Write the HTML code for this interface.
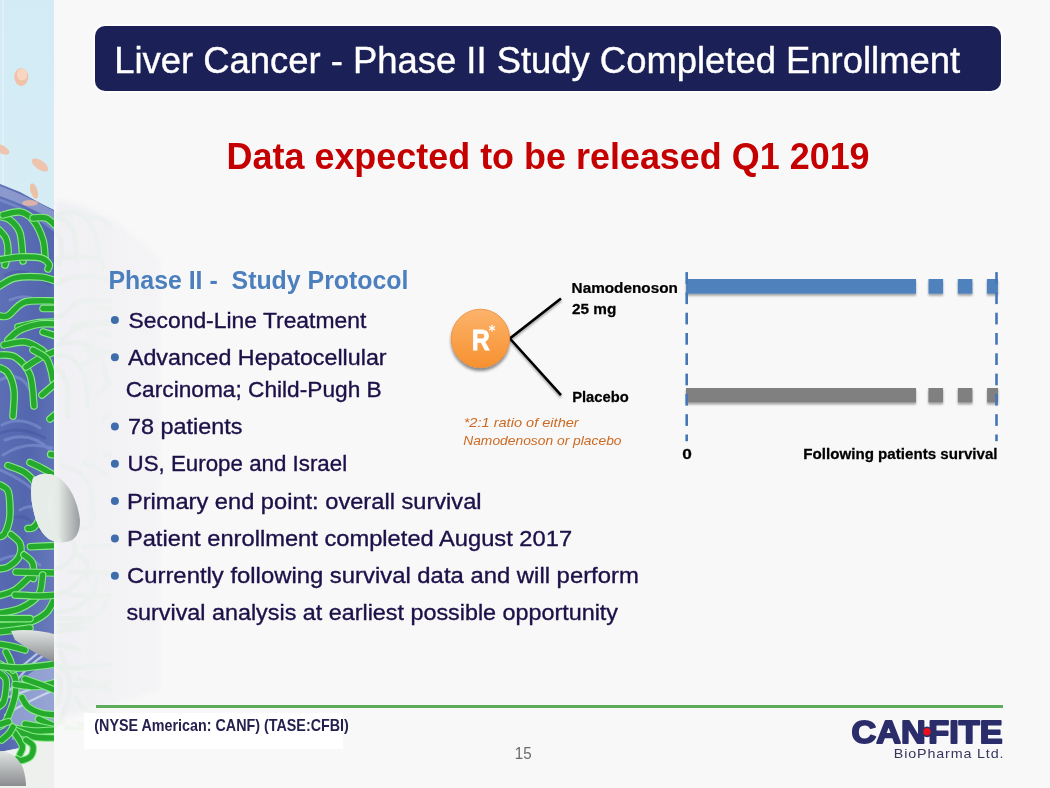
<!DOCTYPE html>
<html><head><meta charset="utf-8"><style>
html,body{margin:0;padding:0;}
body{width:1050px;height:788px;overflow:hidden;background:#f8f8f8;position:relative;font-family:"Liberation Sans",sans-serif;}
.abs{position:absolute;}
#title{left:95px;top:26px;width:906px;height:65px;border-radius:10px;background:#1b2056;box-shadow:0 0 0 1.2px #ffffff, 0 0 2px 1.5px rgba(255,255,255,0.6);}
#gline{left:95.5px;top:705px;width:907px;height:3px;background:#5cac5c;}
#wbox{left:83.8px;top:712.8px;width:259.6px;height:36px;background:#ffffff;}
svg{position:absolute;left:0;top:0;will-change:transform;}
</style></head><body>
<svg width="1050" height="788" viewBox="0 0 1050 788">
<defs>
 <linearGradient id="skyg" x1="0" y1="0" x2="0" y2="1">
  <stop offset="0" stop-color="#d2ebf5"/><stop offset="1" stop-color="#e3f2f8"/>
 </linearGradient>
 <linearGradient id="blueg" x1="0" y1="0" x2="1" y2="1">
  <stop offset="0" stop-color="#6172b8"/><stop offset="0.5" stop-color="#5366ae"/><stop offset="1" stop-color="#7081c0"/>
 </linearGradient>
 <linearGradient id="pillg" x1="0" y1="0" x2="1" y2="0">
  <stop offset="0" stop-color="#f4f6f4"/><stop offset="0.55" stop-color="#e4ebe6"/><stop offset="1" stop-color="#9a9ca0"/>
 </linearGradient>
 <linearGradient id="pill2g" x1="0" y1="0" x2="0" y2="1">
  <stop offset="0" stop-color="#e0e4e2"/><stop offset="1" stop-color="#8a8c90"/>
 </linearGradient>
 <clipPath id="stripclip"><rect x="0" y="0" width="54" height="788"/></clipPath>
 <filter id="blur1"><feGaussianBlur stdDeviation="0.6"/></filter>
 <filter id="blur3"><feGaussianBlur stdDeviation="2.5"/></filter>
 <linearGradient id="wmg" x1="0" y1="0" x2="1" y2="0">
  <stop offset="0" stop-color="#fff" stop-opacity="1"/><stop offset="0.35" stop-color="#fff" stop-opacity="0.6"/><stop offset="1" stop-color="#fff" stop-opacity="0"/>
 </linearGradient>
 <mask id="wmm" maskUnits="userSpaceOnUse" x="54" y="0" width="300" height="788"><rect x="54" y="170" width="220" height="560" fill="url(#wmg)"/></mask>
</defs>
<g clip-path="url(#stripclip)">
 <rect x="0" y="0" width="54" height="788" fill="url(#skyg)"/>
 <rect x="2.5" y="0" width="1.2" height="640" fill="#eef8fb" opacity="0.7"/>
 <path d="M0 184 L20 192 L40 203 L54 210 L54 728 L40 735 L20 748 L0 752 Z" fill="url(#blueg)"/>
 <g opacity="0.45" stroke="#8ea2dc" stroke-width="3" fill="none" stroke-linecap="round">
  <path d="M0 200 Q30 210 54 230"/><path d="M5 440 Q30 430 50 450"/><path d="M0 470 Q25 480 45 500"/>
  <path d="M2 425 Q20 415 40 428"/><path d="M3 455 Q25 440 52 448"/><path d="M10 300 Q30 290 50 310"/>
  <path d="M0 380 Q20 370 30 390"/><path d="M20 510 Q35 500 50 520"/><path d="M0 560 Q20 550 40 565"/>
 </g>
 <g opacity="0.35" stroke="#3f4f9a" stroke-width="3" fill="none" stroke-linecap="round">
  <path d="M0 433 Q20 425 45 438"/><path d="M5 275 Q25 265 50 285"/><path d="M8 520 Q25 510 40 530"/>
 </g>
 <path d="M10 690 Q30 670 54 660 L54 725 Q30 735 12 740 Z" fill="#b8c4e6" opacity="0.55"/>
 <path d="M0 186 Q25 195 54 211 L54 220 Q25 205 0 196 Z" fill="#a8b4dc" opacity="0.6"/>
 <g opacity="0.7" stroke="#dfe6f6" stroke-width="2.2" fill="none" stroke-linecap="round">
  <path d="M10 690 Q30 660 54 650"/><path d="M0 700 Q30 690 54 680"/><path d="M5 715 Q30 700 54 690"/><path d="M15 672 Q35 655 54 640"/>
 </g>
 <path d="M0 752 L20 748 L40 735 L54 728 L54 788 L0 788 Z" fill="#eef0ee"/>
 <g filter="url(#blur1)"><path d="M-2 229 C-0.7 230.6 4.3 234.5 6 238.5 C7.7 242.5 8.2 248.6 8 253 C7.8 257.4 5.5 263.0 5 265" fill="none" stroke="#86e886" stroke-width="7.6" stroke-linecap="round"/>
<path d="M-2 229 C-0.7 230.6 4.3 234.5 6 238.5 C7.7 242.5 8.2 248.6 8 253 C7.8 257.4 5.5 263.0 5 265" fill="none" stroke="#27aa2f" stroke-width="5.4" stroke-linecap="round"/>
<path d="M-2 216 C0.0 216.7 6.3 217.2 10 220 C13.7 222.8 17.8 226.2 20 233 C22.2 239.8 22.5 256.3 23 261" fill="none" stroke="#86e886" stroke-width="7.6" stroke-linecap="round"/>
<path d="M-2 216 C0.0 216.7 6.3 217.2 10 220 C13.7 222.8 17.8 226.2 20 233 C22.2 239.8 22.5 256.3 23 261" fill="none" stroke="#27aa2f" stroke-width="5.4" stroke-linecap="round"/>
<path d="M3 215 C5.8 214.5 15.0 211.2 20 212 C25.0 212.8 29.2 215.3 33 220 C36.8 224.7 41.0 233.5 43 240 C45.0 246.5 44.7 255.8 45 259" fill="none" stroke="#86e886" stroke-width="7.6" stroke-linecap="round"/>
<path d="M3 215 C5.8 214.5 15.0 211.2 20 212 C25.0 212.8 29.2 215.3 33 220 C36.8 224.7 41.0 233.5 43 240 C45.0 246.5 44.7 255.8 45 259" fill="none" stroke="#27aa2f" stroke-width="5.4" stroke-linecap="round"/>
<path d="M33 218 C35.2 218.0 42.2 216.7 46 218 C49.8 219.3 54.3 224.7 56 226" fill="none" stroke="#86e886" stroke-width="7.6" stroke-linecap="round"/>
<path d="M33 218 C35.2 218.0 42.2 216.7 46 218 C49.8 219.3 54.3 224.7 56 226" fill="none" stroke="#27aa2f" stroke-width="5.4" stroke-linecap="round"/>
<path d="M-2 260 C1.7 259.5 12.8 257.3 20 257 C27.2 256.7 36.2 256.8 41 258 C45.8 259.2 47.8 262.2 49 264 C50.2 265.8 48.2 268.2 48 269" fill="none" stroke="#86e886" stroke-width="7.6" stroke-linecap="round"/>
<path d="M-2 260 C1.7 259.5 12.8 257.3 20 257 C27.2 256.7 36.2 256.8 41 258 C45.8 259.2 47.8 262.2 49 264 C50.2 265.8 48.2 268.2 48 269" fill="none" stroke="#27aa2f" stroke-width="5.4" stroke-linecap="round"/>
<path d="M-2 287 C0.8 285.5 8.0 279.7 15 278 C22.0 276.3 33.2 276.5 40 277 C46.8 277.5 53.3 280.3 56 281" fill="none" stroke="#86e886" stroke-width="7.6" stroke-linecap="round"/>
<path d="M-2 287 C0.8 285.5 8.0 279.7 15 278 C22.0 276.3 33.2 276.5 40 277 C46.8 277.5 53.3 280.3 56 281" fill="none" stroke="#27aa2f" stroke-width="5.4" stroke-linecap="round"/>
<path d="M-2 315.6 C-0.3 315.6 3.5 317.9 8 315.6 C12.5 313.3 17.0 304.4 25 302 C33.0 299.6 50.8 301.2 56 301" fill="none" stroke="#86e886" stroke-width="7.6" stroke-linecap="round"/>
<path d="M-2 315.6 C-0.3 315.6 3.5 317.9 8 315.6 C12.5 313.3 17.0 304.4 25 302 C33.0 299.6 50.8 301.2 56 301" fill="none" stroke="#27aa2f" stroke-width="5.4" stroke-linecap="round"/>
<path d="M43 308.5 C45.2 308.5 53.8 308.5 56 308.5" fill="none" stroke="#86e886" stroke-width="7.6" stroke-linecap="round"/>
<path d="M43 308.5 C45.2 308.5 53.8 308.5 56 308.5" fill="none" stroke="#27aa2f" stroke-width="5.4" stroke-linecap="round"/>
<path d="M18 327 C21.0 326.3 29.7 323.8 36 323 C42.3 322.2 52.7 322.2 56 322" fill="none" stroke="#86e886" stroke-width="7.6" stroke-linecap="round"/>
<path d="M18 327 C21.0 326.3 29.7 323.8 36 323 C42.3 322.2 52.7 322.2 56 322" fill="none" stroke="#27aa2f" stroke-width="5.4" stroke-linecap="round"/>
<path d="M8 340 C10.0 338.3 14.7 332.7 20 330 C25.3 327.3 34.0 325.0 40 324 C46.0 323.0 53.3 324.0 56 324" fill="none" stroke="#86e886" stroke-width="7.6" stroke-linecap="round"/>
<path d="M8 340 C10.0 338.3 14.7 332.7 20 330 C25.3 327.3 34.0 325.0 40 324 C46.0 323.0 53.3 324.0 56 324" fill="none" stroke="#27aa2f" stroke-width="5.4" stroke-linecap="round"/>
<path d="M4 345 C7.5 344.5 18.7 341.2 25 342 C31.3 342.8 38.5 347.7 42 350 C45.5 352.3 45.3 355.0 46 356" fill="none" stroke="#86e886" stroke-width="7.6" stroke-linecap="round"/>
<path d="M4 345 C7.5 344.5 18.7 341.2 25 342 C31.3 342.8 38.5 347.7 42 350 C45.5 352.3 45.3 355.0 46 356" fill="none" stroke="#27aa2f" stroke-width="5.4" stroke-linecap="round"/>
<path d="M43 332 C45.2 332.7 53.8 335.3 56 336" fill="none" stroke="#86e886" stroke-width="7.6" stroke-linecap="round"/>
<path d="M43 332 C45.2 332.7 53.8 335.3 56 336" fill="none" stroke="#27aa2f" stroke-width="5.4" stroke-linecap="round"/>
<path d="M-2 367 C-0.3 368.0 5.3 369.0 8 373 C10.7 377.0 13.2 383.8 14 391 C14.8 398.2 13.2 411.8 13 416" fill="none" stroke="#86e886" stroke-width="7.6" stroke-linecap="round"/>
<path d="M-2 367 C-0.3 368.0 5.3 369.0 8 373 C10.7 377.0 13.2 383.8 14 391 C14.8 398.2 13.2 411.8 13 416" fill="none" stroke="#27aa2f" stroke-width="5.4" stroke-linecap="round"/>
<path d="M-2 355 C0.8 355.3 9.7 353.7 15 357 C20.3 360.3 26.8 366.8 30 375 C33.2 383.2 33.3 400.8 34 406" fill="none" stroke="#86e886" stroke-width="7.6" stroke-linecap="round"/>
<path d="M-2 355 C0.8 355.3 9.7 353.7 15 357 C20.3 360.3 26.8 366.8 30 375 C33.2 383.2 33.3 400.8 34 406" fill="none" stroke="#27aa2f" stroke-width="5.4" stroke-linecap="round"/>
<path d="M26 367 C28.3 365.5 35.0 360.7 40 358 C45.0 355.3 53.3 352.2 56 351" fill="none" stroke="#86e886" stroke-width="7.6" stroke-linecap="round"/>
<path d="M26 367 C28.3 365.5 35.0 360.7 40 358 C45.0 355.3 53.3 352.2 56 351" fill="none" stroke="#27aa2f" stroke-width="5.4" stroke-linecap="round"/>
<path d="M33 350 C35.2 351.3 43.0 354.7 46 358 C49.0 361.3 49.8 366.3 51 370 C52.2 373.7 52.7 378.3 53 380" fill="none" stroke="#86e886" stroke-width="7.6" stroke-linecap="round"/>
<path d="M33 350 C35.2 351.3 43.0 354.7 46 358 C49.0 361.3 49.8 366.3 51 370 C52.2 373.7 52.7 378.3 53 380" fill="none" stroke="#27aa2f" stroke-width="5.4" stroke-linecap="round"/>
<path d="M42 395 C44.3 393.0 53.7 385.0 56 383" fill="none" stroke="#86e886" stroke-width="7.6" stroke-linecap="round"/>
<path d="M42 395 C44.3 393.0 53.7 385.0 56 383" fill="none" stroke="#27aa2f" stroke-width="5.4" stroke-linecap="round"/>
<path d="M50 419 C51.0 418.2 55.0 414.8 56 414" fill="none" stroke="#86e886" stroke-width="7.6" stroke-linecap="round"/>
<path d="M50 419 C51.0 418.2 55.0 414.8 56 414" fill="none" stroke="#27aa2f" stroke-width="5.4" stroke-linecap="round"/>
<path d="M8 465.6 C10.8 466.8 20.2 469.3 25 472.7 C29.8 476.1 34.2 480.6 36.5 486 C38.8 491.4 38.0 499.7 38.5 505 C39.0 510.3 40.3 514.3 39.5 518 C38.7 521.7 35.4 525.7 33.5 527.4 C31.6 529.1 28.9 528.2 28 528.4" fill="none" stroke="#86e886" stroke-width="7.6" stroke-linecap="round"/>
<path d="M8 465.6 C10.8 466.8 20.2 469.3 25 472.7 C29.8 476.1 34.2 480.6 36.5 486 C38.8 491.4 38.0 499.7 38.5 505 C39.0 510.3 40.3 514.3 39.5 518 C38.7 521.7 35.4 525.7 33.5 527.4 C31.6 529.1 28.9 528.2 28 528.4" fill="none" stroke="#27aa2f" stroke-width="5.4" stroke-linecap="round"/>
<path d="M30 462.5 C32.1 463.5 38.9 466.7 42.6 468.6 C46.3 470.5 50.4 473.1 52 474" fill="none" stroke="#86e886" stroke-width="7.6" stroke-linecap="round"/>
<path d="M30 462.5 C32.1 463.5 38.9 466.7 42.6 468.6 C46.3 470.5 50.4 473.1 52 474" fill="none" stroke="#27aa2f" stroke-width="5.4" stroke-linecap="round"/>
<path d="M50.7 454.4 C51.6 454.5 55.1 454.9 56 455" fill="none" stroke="#86e886" stroke-width="7.6" stroke-linecap="round"/>
<path d="M50.7 454.4 C51.6 454.5 55.1 454.9 56 455" fill="none" stroke="#27aa2f" stroke-width="5.4" stroke-linecap="round"/>
<path d="M-2 484 C-0.3 485.2 6.0 486.7 8 491 C10.0 495.3 9.8 504.8 10 510 C10.2 515.2 10.0 517.9 9 522 C8.0 526.1 5.8 532.0 4 534.5 C2.2 537.0 -1.0 536.6 -2 537" fill="none" stroke="#86e886" stroke-width="7.6" stroke-linecap="round"/>
<path d="M-2 484 C-0.3 485.2 6.0 486.7 8 491 C10.0 495.3 9.8 504.8 10 510 C10.2 515.2 10.0 517.9 9 522 C8.0 526.1 5.8 532.0 4 534.5 C2.2 537.0 -1.0 536.6 -2 537" fill="none" stroke="#27aa2f" stroke-width="5.4" stroke-linecap="round"/>
<path d="M11 534.5 C12.5 536.0 18.7 539.9 20 543.6 C21.3 547.3 21.0 552.9 19 556.8 C17.0 560.7 11.5 565.0 8 567 C4.5 569.0 -0.3 568.7 -2 569" fill="none" stroke="#86e886" stroke-width="7.6" stroke-linecap="round"/>
<path d="M11 534.5 C12.5 536.0 18.7 539.9 20 543.6 C21.3 547.3 21.0 552.9 19 556.8 C17.0 560.7 11.5 565.0 8 567 C4.5 569.0 -0.3 568.7 -2 569" fill="none" stroke="#27aa2f" stroke-width="5.4" stroke-linecap="round"/>
<path d="M30.4 546.7 C34.7 546.5 51.7 545.8 56 545.6" fill="none" stroke="#86e886" stroke-width="7.6" stroke-linecap="round"/>
<path d="M30.4 546.7 C34.7 546.5 51.7 545.8 56 545.6" fill="none" stroke="#27aa2f" stroke-width="5.4" stroke-linecap="round"/>
<path d="M24 554.8 C25.4 556.2 30.9 559.1 32.5 563 C34.1 566.9 33.9 575.7 33.5 578 C33.1 580.3 33.1 575.0 30 577 C26.9 579.0 20.3 586.8 15 590 C9.7 593.2 0.8 595.0 -2 596" fill="none" stroke="#86e886" stroke-width="7.6" stroke-linecap="round"/>
<path d="M24 554.8 C25.4 556.2 30.9 559.1 32.5 563 C34.1 566.9 33.9 575.7 33.5 578 C33.1 580.3 33.1 575.0 30 577 C26.9 579.0 20.3 586.8 15 590 C9.7 593.2 0.8 595.0 -2 596" fill="none" stroke="#27aa2f" stroke-width="5.4" stroke-linecap="round"/>
<path d="M16 572 C22.7 572.2 49.3 572.8 56 573" fill="none" stroke="#86e886" stroke-width="7.6" stroke-linecap="round"/>
<path d="M16 572 C22.7 572.2 49.3 572.8 56 573" fill="none" stroke="#27aa2f" stroke-width="5.4" stroke-linecap="round"/>
<path d="M-2 613.5 C1.7 612.7 13.2 611.6 20 608.5 C26.8 605.4 34.7 600.6 38.5 595 C42.3 589.4 41.9 578.3 42.6 575" fill="none" stroke="#86e886" stroke-width="7.6" stroke-linecap="round"/>
<path d="M-2 613.5 C1.7 612.7 13.2 611.6 20 608.5 C26.8 605.4 34.7 600.6 38.5 595 C42.3 589.4 41.9 578.3 42.6 575" fill="none" stroke="#27aa2f" stroke-width="5.4" stroke-linecap="round"/>
<path d="M-2 625.7 C2.5 625.4 17.1 625.7 25 623.7 C32.9 621.7 40.8 617.5 45.6 613.5 C50.4 609.5 52.6 602.2 54 600" fill="none" stroke="#86e886" stroke-width="7.6" stroke-linecap="round"/>
<path d="M-2 625.7 C2.5 625.4 17.1 625.7 25 623.7 C32.9 621.7 40.8 617.5 45.6 613.5 C50.4 609.5 52.6 602.2 54 600" fill="none" stroke="#27aa2f" stroke-width="5.4" stroke-linecap="round"/>
<path d="M-2 618.6 C3.3 618.6 24.7 618.6 30 618.6" fill="none" stroke="#86e886" stroke-width="7.6" stroke-linecap="round"/>
<path d="M-2 618.6 C3.3 618.6 24.7 618.6 30 618.6" fill="none" stroke="#27aa2f" stroke-width="5.4" stroke-linecap="round"/>
<path d="M15 595 C19.2 595.2 33.2 596.0 40 596 C46.8 596.0 53.3 595.2 56 595" fill="none" stroke="#86e886" stroke-width="7.6" stroke-linecap="round"/>
<path d="M15 595 C19.2 595.2 33.2 596.0 40 596 C46.8 596.0 53.3 595.2 56 595" fill="none" stroke="#27aa2f" stroke-width="5.4" stroke-linecap="round"/>
<path d="M-2 632 C0.8 631.7 9.7 630.7 15 630 C20.3 629.3 27.5 628.3 30 628" fill="none" stroke="#86e886" stroke-width="7.6" stroke-linecap="round"/>
<path d="M-2 632 C0.8 631.7 9.7 630.7 15 630 C20.3 629.3 27.5 628.3 30 628" fill="none" stroke="#27aa2f" stroke-width="5.4" stroke-linecap="round"/>
<path d="M-2 644 C0.0 644.3 5.5 645.0 10 646 C14.5 647.0 22.5 649.3 25 650" fill="none" stroke="#86e886" stroke-width="7.6" stroke-linecap="round"/>
<path d="M-2 644 C0.0 644.3 5.5 645.0 10 646 C14.5 647.0 22.5 649.3 25 650" fill="none" stroke="#27aa2f" stroke-width="5.4" stroke-linecap="round"/>
<path d="M-2 672 C-0.7 673.3 5.0 675.2 6 680 C7.0 684.8 5.3 696.2 4 700.7 C2.7 705.2 -1.0 706.0 -2 707" fill="none" stroke="#86e886" stroke-width="7.6" stroke-linecap="round"/>
<path d="M-2 672 C-0.7 673.3 5.0 675.2 6 680 C7.0 684.8 5.3 696.2 4 700.7 C2.7 705.2 -1.0 706.0 -2 707" fill="none" stroke="#27aa2f" stroke-width="5.4" stroke-linecap="round"/>
<path d="M-2 663 C0.7 665.0 11.2 669.6 14 675 C16.8 680.4 16.3 687.9 15 695.6 C13.7 703.3 8.8 715.8 6 721 C3.2 726.2 -0.7 726.0 -2 727" fill="none" stroke="#86e886" stroke-width="7.6" stroke-linecap="round"/>
<path d="M-2 663 C0.7 665.0 11.2 669.6 14 675 C16.8 680.4 16.3 687.9 15 695.6 C13.7 703.3 8.8 715.8 6 721 C3.2 726.2 -0.7 726.0 -2 727" fill="none" stroke="#27aa2f" stroke-width="5.4" stroke-linecap="round"/>
<path d="M6 652 C6.7 653.3 8.8 657.0 10 660 C11.2 663.0 12.5 668.3 13 670" fill="none" stroke="#86e886" stroke-width="7.6" stroke-linecap="round"/>
<path d="M6 652 C6.7 653.3 8.8 657.0 10 660 C11.2 663.0 12.5 668.3 13 670" fill="none" stroke="#27aa2f" stroke-width="5.4" stroke-linecap="round"/>
<path d="M-2 666 C1.7 666.3 10.3 668.3 20 668 C29.7 667.7 50.0 664.7 56 664" fill="none" stroke="#86e886" stroke-width="7.6" stroke-linecap="round"/>
<path d="M-2 666 C1.7 666.3 10.3 668.3 20 668 C29.7 667.7 50.0 664.7 56 664" fill="none" stroke="#27aa2f" stroke-width="5.4" stroke-linecap="round"/>
<path d="M15 684.5 C18.4 684.8 28.7 686.8 35.5 686.5 C42.3 686.2 52.6 683.2 56 682.5" fill="none" stroke="#86e886" stroke-width="7.6" stroke-linecap="round"/>
<path d="M15 684.5 C18.4 684.8 28.7 686.8 35.5 686.5 C42.3 686.2 52.6 683.2 56 682.5" fill="none" stroke="#27aa2f" stroke-width="5.4" stroke-linecap="round"/>
<path d="M25 679 C27.6 679.9 35.4 682.6 40.6 684.5 C45.8 686.4 53.4 689.6 56 690.6" fill="none" stroke="#86e886" stroke-width="7.6" stroke-linecap="round"/>
<path d="M25 679 C27.6 679.9 35.4 682.6 40.6 684.5 C45.8 686.4 53.4 689.6 56 690.6" fill="none" stroke="#27aa2f" stroke-width="5.4" stroke-linecap="round"/>
<path d="M22 697.7 C23.0 699.2 24.9 704.2 28 706.8 C31.1 709.3 35.9 711.6 40.6 713 C45.3 714.4 53.4 714.7 56 715" fill="none" stroke="#86e886" stroke-width="7.6" stroke-linecap="round"/>
<path d="M22 697.7 C23.0 699.2 24.9 704.2 28 706.8 C31.1 709.3 35.9 711.6 40.6 713 C45.3 714.4 53.4 714.7 56 715" fill="none" stroke="#27aa2f" stroke-width="5.4" stroke-linecap="round"/>
<path d="M38.5 719 C41.4 720.3 53.1 725.7 56 727" fill="none" stroke="#86e886" stroke-width="7.6" stroke-linecap="round"/>
<path d="M38.5 719 C41.4 720.3 53.1 725.7 56 727" fill="none" stroke="#27aa2f" stroke-width="5.4" stroke-linecap="round"/>
<path d="M25 724 C30.2 725.0 50.8 729.0 56 730" fill="none" stroke="#86e886" stroke-width="7.6" stroke-linecap="round"/>
<path d="M25 724 C30.2 725.0 50.8 729.0 56 730" fill="none" stroke="#27aa2f" stroke-width="5.4" stroke-linecap="round"/>
<path d="M13 728 C16.6 728.5 27.3 730.7 34.5 731 C41.7 731.3 52.4 730.2 56 730" fill="none" stroke="#86e886" stroke-width="7.6" stroke-linecap="round"/>
<path d="M13 728 C16.6 728.5 27.3 730.7 34.5 731 C41.7 731.3 52.4 730.2 56 730" fill="none" stroke="#27aa2f" stroke-width="5.4" stroke-linecap="round"/>
<path d="M14.7 730 C18.0 731.2 27.6 735.7 34.5 737 C41.4 738.3 52.4 737.8 56 738" fill="none" stroke="#86e886" stroke-width="7.6" stroke-linecap="round"/>
<path d="M14.7 730 C18.0 731.2 27.6 735.7 34.5 737 C41.4 738.3 52.4 737.8 56 738" fill="none" stroke="#27aa2f" stroke-width="5.4" stroke-linecap="round"/>
<path d="M14.7 733 C16.0 735.2 21.5 742.4 22.4 746 C23.2 749.6 20.2 753.1 19.8 754.5" fill="none" stroke="#86e886" stroke-width="7.6" stroke-linecap="round"/>
<path d="M14.7 733 C16.0 735.2 21.5 742.4 22.4 746 C23.2 749.6 20.2 753.1 19.8 754.5" fill="none" stroke="#27aa2f" stroke-width="5.4" stroke-linecap="round"/>
<path d="M26 740 C27.2 741.0 32.2 743.3 33 746 C33.8 748.7 32.9 753.6 31 756 C29.1 758.4 23.9 760.0 21.6 760.5 C19.3 761.0 17.8 759.2 17 759" fill="none" stroke="#86e886" stroke-width="7.6" stroke-linecap="round"/>
<path d="M26 740 C27.2 741.0 32.2 743.3 33 746 C33.8 748.7 32.9 753.6 31 756 C29.1 758.4 23.9 760.0 21.6 760.5 C19.3 761.0 17.8 759.2 17 759" fill="none" stroke="#27aa2f" stroke-width="5.4" stroke-linecap="round"/>
<path d="M-2 725 C-0.2 724.5 6.8 722.2 8.6 721.7" fill="none" stroke="#86e886" stroke-width="7.6" stroke-linecap="round"/>
<path d="M-2 725 C-0.2 724.5 6.8 722.2 8.6 721.7" fill="none" stroke="#27aa2f" stroke-width="5.4" stroke-linecap="round"/>
<path d="M1.7 740 C2.8 739.0 6.7 736.2 8.6 734 C10.5 731.8 12.3 728.2 13 727" fill="none" stroke="#86e886" stroke-width="7.6" stroke-linecap="round"/>
<path d="M1.7 740 C2.8 739.0 6.7 736.2 8.6 734 C10.5 731.8 12.3 728.2 13 727" fill="none" stroke="#27aa2f" stroke-width="5.4" stroke-linecap="round"/></g>
 <path d="M0 751 Q16 752 23 768 Q26 778 26 786 L0 786 Z" fill="url(#pill2g)"/>
 <path d="M11 631 Q30 628 54 634 L54 662 Q32 652 15 640 Z" fill="url(#pill2g)"/>
</g>
<g mask="url(#wmm)">
 <path d="M56 200 Q90 205 120 225 L160 260 L160 690 L56 720 Z" fill="#e6e7f0" opacity="0.45" filter="url(#blur3)"/>
 <g transform="translate(54 0)" opacity="0.09" filter="url(#blur1)"><path d="M-2 229 C-0.7 230.6 4.3 234.5 6 238.5 C7.7 242.5 8.2 248.6 8 253 C7.8 257.4 5.5 263.0 5 265" fill="none" stroke="#a8e0a8" stroke-width="5" stroke-linecap="round"/>
<path d="M-2 216 C0.0 216.7 6.3 217.2 10 220 C13.7 222.8 17.8 226.2 20 233 C22.2 239.8 22.5 256.3 23 261" fill="none" stroke="#a8e0a8" stroke-width="5" stroke-linecap="round"/>
<path d="M3 215 C5.8 214.5 15.0 211.2 20 212 C25.0 212.8 29.2 215.3 33 220 C36.8 224.7 41.0 233.5 43 240 C45.0 246.5 44.7 255.8 45 259" fill="none" stroke="#a8e0a8" stroke-width="5" stroke-linecap="round"/>
<path d="M33 218 C35.2 218.0 42.2 216.7 46 218 C49.8 219.3 54.3 224.7 56 226" fill="none" stroke="#a8e0a8" stroke-width="5" stroke-linecap="round"/>
<path d="M-2 260 C1.7 259.5 12.8 257.3 20 257 C27.2 256.7 36.2 256.8 41 258 C45.8 259.2 47.8 262.2 49 264 C50.2 265.8 48.2 268.2 48 269" fill="none" stroke="#a8e0a8" stroke-width="5" stroke-linecap="round"/>
<path d="M-2 287 C0.8 285.5 8.0 279.7 15 278 C22.0 276.3 33.2 276.5 40 277 C46.8 277.5 53.3 280.3 56 281" fill="none" stroke="#a8e0a8" stroke-width="5" stroke-linecap="round"/>
<path d="M-2 315.6 C-0.3 315.6 3.5 317.9 8 315.6 C12.5 313.3 17.0 304.4 25 302 C33.0 299.6 50.8 301.2 56 301" fill="none" stroke="#a8e0a8" stroke-width="5" stroke-linecap="round"/>
<path d="M43 308.5 C45.2 308.5 53.8 308.5 56 308.5" fill="none" stroke="#a8e0a8" stroke-width="5" stroke-linecap="round"/>
<path d="M18 327 C21.0 326.3 29.7 323.8 36 323 C42.3 322.2 52.7 322.2 56 322" fill="none" stroke="#a8e0a8" stroke-width="5" stroke-linecap="round"/>
<path d="M8 340 C10.0 338.3 14.7 332.7 20 330 C25.3 327.3 34.0 325.0 40 324 C46.0 323.0 53.3 324.0 56 324" fill="none" stroke="#a8e0a8" stroke-width="5" stroke-linecap="round"/>
<path d="M4 345 C7.5 344.5 18.7 341.2 25 342 C31.3 342.8 38.5 347.7 42 350 C45.5 352.3 45.3 355.0 46 356" fill="none" stroke="#a8e0a8" stroke-width="5" stroke-linecap="round"/>
<path d="M43 332 C45.2 332.7 53.8 335.3 56 336" fill="none" stroke="#a8e0a8" stroke-width="5" stroke-linecap="round"/>
<path d="M-2 367 C-0.3 368.0 5.3 369.0 8 373 C10.7 377.0 13.2 383.8 14 391 C14.8 398.2 13.2 411.8 13 416" fill="none" stroke="#a8e0a8" stroke-width="5" stroke-linecap="round"/>
<path d="M-2 355 C0.8 355.3 9.7 353.7 15 357 C20.3 360.3 26.8 366.8 30 375 C33.2 383.2 33.3 400.8 34 406" fill="none" stroke="#a8e0a8" stroke-width="5" stroke-linecap="round"/>
<path d="M26 367 C28.3 365.5 35.0 360.7 40 358 C45.0 355.3 53.3 352.2 56 351" fill="none" stroke="#a8e0a8" stroke-width="5" stroke-linecap="round"/>
<path d="M33 350 C35.2 351.3 43.0 354.7 46 358 C49.0 361.3 49.8 366.3 51 370 C52.2 373.7 52.7 378.3 53 380" fill="none" stroke="#a8e0a8" stroke-width="5" stroke-linecap="round"/>
<path d="M42 395 C44.3 393.0 53.7 385.0 56 383" fill="none" stroke="#a8e0a8" stroke-width="5" stroke-linecap="round"/>
<path d="M50 419 C51.0 418.2 55.0 414.8 56 414" fill="none" stroke="#a8e0a8" stroke-width="5" stroke-linecap="round"/>
<path d="M8 465.6 C10.8 466.8 20.2 469.3 25 472.7 C29.8 476.1 34.2 480.6 36.5 486 C38.8 491.4 38.0 499.7 38.5 505 C39.0 510.3 40.3 514.3 39.5 518 C38.7 521.7 35.4 525.7 33.5 527.4 C31.6 529.1 28.9 528.2 28 528.4" fill="none" stroke="#a8e0a8" stroke-width="5" stroke-linecap="round"/>
<path d="M30 462.5 C32.1 463.5 38.9 466.7 42.6 468.6 C46.3 470.5 50.4 473.1 52 474" fill="none" stroke="#a8e0a8" stroke-width="5" stroke-linecap="round"/>
<path d="M50.7 454.4 C51.6 454.5 55.1 454.9 56 455" fill="none" stroke="#a8e0a8" stroke-width="5" stroke-linecap="round"/>
<path d="M-2 484 C-0.3 485.2 6.0 486.7 8 491 C10.0 495.3 9.8 504.8 10 510 C10.2 515.2 10.0 517.9 9 522 C8.0 526.1 5.8 532.0 4 534.5 C2.2 537.0 -1.0 536.6 -2 537" fill="none" stroke="#a8e0a8" stroke-width="5" stroke-linecap="round"/>
<path d="M11 534.5 C12.5 536.0 18.7 539.9 20 543.6 C21.3 547.3 21.0 552.9 19 556.8 C17.0 560.7 11.5 565.0 8 567 C4.5 569.0 -0.3 568.7 -2 569" fill="none" stroke="#a8e0a8" stroke-width="5" stroke-linecap="round"/>
<path d="M30.4 546.7 C34.7 546.5 51.7 545.8 56 545.6" fill="none" stroke="#a8e0a8" stroke-width="5" stroke-linecap="round"/>
<path d="M24 554.8 C25.4 556.2 30.9 559.1 32.5 563 C34.1 566.9 33.9 575.7 33.5 578 C33.1 580.3 33.1 575.0 30 577 C26.9 579.0 20.3 586.8 15 590 C9.7 593.2 0.8 595.0 -2 596" fill="none" stroke="#a8e0a8" stroke-width="5" stroke-linecap="round"/>
<path d="M16 572 C22.7 572.2 49.3 572.8 56 573" fill="none" stroke="#a8e0a8" stroke-width="5" stroke-linecap="round"/>
<path d="M-2 613.5 C1.7 612.7 13.2 611.6 20 608.5 C26.8 605.4 34.7 600.6 38.5 595 C42.3 589.4 41.9 578.3 42.6 575" fill="none" stroke="#a8e0a8" stroke-width="5" stroke-linecap="round"/>
<path d="M-2 625.7 C2.5 625.4 17.1 625.7 25 623.7 C32.9 621.7 40.8 617.5 45.6 613.5 C50.4 609.5 52.6 602.2 54 600" fill="none" stroke="#a8e0a8" stroke-width="5" stroke-linecap="round"/>
<path d="M-2 618.6 C3.3 618.6 24.7 618.6 30 618.6" fill="none" stroke="#a8e0a8" stroke-width="5" stroke-linecap="round"/>
<path d="M15 595 C19.2 595.2 33.2 596.0 40 596 C46.8 596.0 53.3 595.2 56 595" fill="none" stroke="#a8e0a8" stroke-width="5" stroke-linecap="round"/>
<path d="M-2 632 C0.8 631.7 9.7 630.7 15 630 C20.3 629.3 27.5 628.3 30 628" fill="none" stroke="#a8e0a8" stroke-width="5" stroke-linecap="round"/>
<path d="M-2 644 C0.0 644.3 5.5 645.0 10 646 C14.5 647.0 22.5 649.3 25 650" fill="none" stroke="#a8e0a8" stroke-width="5" stroke-linecap="round"/>
<path d="M-2 672 C-0.7 673.3 5.0 675.2 6 680 C7.0 684.8 5.3 696.2 4 700.7 C2.7 705.2 -1.0 706.0 -2 707" fill="none" stroke="#a8e0a8" stroke-width="5" stroke-linecap="round"/>
<path d="M-2 663 C0.7 665.0 11.2 669.6 14 675 C16.8 680.4 16.3 687.9 15 695.6 C13.7 703.3 8.8 715.8 6 721 C3.2 726.2 -0.7 726.0 -2 727" fill="none" stroke="#a8e0a8" stroke-width="5" stroke-linecap="round"/>
<path d="M6 652 C6.7 653.3 8.8 657.0 10 660 C11.2 663.0 12.5 668.3 13 670" fill="none" stroke="#a8e0a8" stroke-width="5" stroke-linecap="round"/>
<path d="M-2 666 C1.7 666.3 10.3 668.3 20 668 C29.7 667.7 50.0 664.7 56 664" fill="none" stroke="#a8e0a8" stroke-width="5" stroke-linecap="round"/>
<path d="M15 684.5 C18.4 684.8 28.7 686.8 35.5 686.5 C42.3 686.2 52.6 683.2 56 682.5" fill="none" stroke="#a8e0a8" stroke-width="5" stroke-linecap="round"/>
<path d="M25 679 C27.6 679.9 35.4 682.6 40.6 684.5 C45.8 686.4 53.4 689.6 56 690.6" fill="none" stroke="#a8e0a8" stroke-width="5" stroke-linecap="round"/>
<path d="M22 697.7 C23.0 699.2 24.9 704.2 28 706.8 C31.1 709.3 35.9 711.6 40.6 713 C45.3 714.4 53.4 714.7 56 715" fill="none" stroke="#a8e0a8" stroke-width="5" stroke-linecap="round"/>
<path d="M38.5 719 C41.4 720.3 53.1 725.7 56 727" fill="none" stroke="#a8e0a8" stroke-width="5" stroke-linecap="round"/>
<path d="M25 724 C30.2 725.0 50.8 729.0 56 730" fill="none" stroke="#a8e0a8" stroke-width="5" stroke-linecap="round"/>
<path d="M13 728 C16.6 728.5 27.3 730.7 34.5 731 C41.7 731.3 52.4 730.2 56 730" fill="none" stroke="#a8e0a8" stroke-width="5" stroke-linecap="round"/>
<path d="M14.7 730 C18.0 731.2 27.6 735.7 34.5 737 C41.4 738.3 52.4 737.8 56 738" fill="none" stroke="#a8e0a8" stroke-width="5" stroke-linecap="round"/>
<path d="M14.7 733 C16.0 735.2 21.5 742.4 22.4 746 C23.2 749.6 20.2 753.1 19.8 754.5" fill="none" stroke="#a8e0a8" stroke-width="5" stroke-linecap="round"/>
<path d="M26 740 C27.2 741.0 32.2 743.3 33 746 C33.8 748.7 32.9 753.6 31 756 C29.1 758.4 23.9 760.0 21.6 760.5 C19.3 761.0 17.8 759.2 17 759" fill="none" stroke="#a8e0a8" stroke-width="5" stroke-linecap="round"/>
<path d="M-2 725 C-0.2 724.5 6.8 722.2 8.6 721.7" fill="none" stroke="#a8e0a8" stroke-width="5" stroke-linecap="round"/>
<path d="M1.7 740 C2.8 739.0 6.7 736.2 8.6 734 C10.5 731.8 12.3 728.2 13 727" fill="none" stroke="#a8e0a8" stroke-width="5" stroke-linecap="round"/></g>
</g>
<ellipse cx="21.3" cy="77" rx="7" ry="9" fill="#f0c2a8"/>
<ellipse cx="22" cy="74.5" rx="5" ry="6" fill="#f8d6c2"/>
<ellipse cx="2" cy="149.5" rx="8" ry="4" transform="rotate(28 2 149.5)" fill="#eec4ae"/>
<ellipse cx="40" cy="165" rx="9.5" ry="4.5" transform="rotate(35 40 165)" fill="#eec4ae"/>
<ellipse cx="34" cy="191" rx="3.5" ry="8" transform="rotate(-18 34 191)" fill="#eac2a8"/>
<ellipse cx="30" cy="203" rx="8" ry="3" fill="#efb9a0" opacity="0.8"/>
<path d="M33 478 Q45 470 58 477 Q76 490 80 520 Q80 540 66 542 Q45 545 36 520 Q28 495 33 478 Z" fill="url(#pillg)"/>
<path d="M33 478 Q45 470 58 477 Q52 482 48 500 Q46 525 62 541 Q45 545 36 520 Q28 495 33 478 Z" fill="#e6ece8"/>
</svg>
<div class="abs" id="title"></div>
<div class="abs" id="gline"></div>
<div class="abs" id="wbox"></div>
<svg width="1050" height="788" viewBox="0 0 1050 788" font-family="Liberation Sans, sans-serif">

<defs>
 <radialGradient id="og" cx="50%" cy="30%" r="75%">
  <stop offset="0" stop-color="#fdbf7e"/><stop offset="1" stop-color="#f68a2c"/>
 </radialGradient>
 <linearGradient id="ogl" x1="0" y1="0" x2="0" y2="1">
  <stop offset="0" stop-color="#fcb36c"/><stop offset="1" stop-color="#f7912f"/>
 </linearGradient>
 <filter id="sh" x="-30%" y="-30%" width="160%" height="170%"><feGaussianBlur in="SourceAlpha" stdDeviation="1.6"/><feOffset dx="0" dy="2.5"/><feComponentTransfer><feFuncA type="linear" slope="0.45"/></feComponentTransfer><feMerge><feMergeNode/><feMergeNode in="SourceGraphic"/></feMerge></filter>
 <filter id="sh2" x="-5%" y="-40%" width="110%" height="200%"><feGaussianBlur in="SourceAlpha" stdDeviation="0.8"/><feOffset dx="0" dy="1.5"/><feComponentTransfer><feFuncA type="linear" slope="0.35"/></feComponentTransfer><feMerge><feMergeNode/><feMergeNode in="SourceGraphic"/></feMerge></filter>
</defs>
<g filter="url(#sh2)">
<rect x="686" y="279" width="230" height="14.7" fill="#4f81bd"/>
<rect x="928.5" y="279" width="14.6" height="14.7" fill="#4f81bd"/>
<rect x="957.8" y="279" width="14.6" height="14.7" fill="#4f81bd"/>
<rect x="986.9" y="279" width="11" height="14.7" fill="#4f81bd"/>
<rect x="686" y="388" width="230" height="14.5" fill="#808080"/>
<rect x="928.4" y="388" width="14.7" height="14.5" fill="#808080"/>
<rect x="957.8" y="388" width="14.6" height="14.5" fill="#808080"/>
<rect x="987.1" y="388" width="11" height="14.5" fill="#808080"/>
</g>
<rect x="685.4" y="272.1" width="2.6" height="11.7" fill="#4577b8"/>
<rect x="685.4" y="292.4" width="2.6" height="11.7" fill="#4577b8"/>
<rect x="685.4" y="312.7" width="2.6" height="11.7" fill="#4577b8"/>
<rect x="685.4" y="333.0" width="2.6" height="11.7" fill="#4577b8"/>
<rect x="685.4" y="353.3" width="2.6" height="11.7" fill="#4577b8"/>
<rect x="685.4" y="373.6" width="2.6" height="11.7" fill="#4577b8"/>
<rect x="685.4" y="393.9" width="2.6" height="11.7" fill="#4577b8"/>
<rect x="685.4" y="414.2" width="2.6" height="11.7" fill="#4577b8"/>
<rect x="685.4" y="434.5" width="2.6" height="6.7" fill="#4577b8"/>
<rect x="995.2" y="272.1" width="2.6" height="11.7" fill="#4577b8"/>
<rect x="995.2" y="292.4" width="2.6" height="11.7" fill="#4577b8"/>
<rect x="995.2" y="312.7" width="2.6" height="11.7" fill="#4577b8"/>
<rect x="995.2" y="333.0" width="2.6" height="11.7" fill="#4577b8"/>
<rect x="995.2" y="353.3" width="2.6" height="11.7" fill="#4577b8"/>
<rect x="995.2" y="373.6" width="2.6" height="11.7" fill="#4577b8"/>
<rect x="995.2" y="393.9" width="2.6" height="11.7" fill="#4577b8"/>
<rect x="995.2" y="414.2" width="2.6" height="11.7" fill="#4577b8"/>
<rect x="995.2" y="434.5" width="2.6" height="6.7" fill="#4577b8"/>
<path d="M561 298.4 L509.9 338.5 L561 395.2" fill="none" stroke="#000" stroke-width="2.6" stroke-linejoin="miter" filter="url(#sh2)"/>
<circle cx="480.4" cy="338.4" r="29.2" fill="url(#ogl)" stroke="#e98a3a" stroke-width="0.8" filter="url(#sh)"/>
<g stroke="#fff" stroke-width="1.3" stroke-linecap="round" opacity="0.95"><line x1="492.1" y1="325.3" x2="492.1" y2="331"/><line x1="489.6" y1="326.8" x2="494.6" y2="329.6"/><line x1="489.6" y1="329.6" x2="494.6" y2="326.8"/></g>

<circle cx="114.9" cy="320.0" r="4.0" fill="#3f6dab"/>
<circle cx="114.9" cy="357.2" r="4.0" fill="#3f6dab"/>
<circle cx="114.9" cy="426.5" r="4.0" fill="#3f6dab"/>
<circle cx="114.9" cy="463.8" r="4.0" fill="#3f6dab"/>
<circle cx="114.9" cy="501.0" r="4.0" fill="#3f6dab"/>
<circle cx="114.9" cy="538.4" r="4.0" fill="#3f6dab"/>
<circle cx="114.9" cy="575.8" r="4.0" fill="#3f6dab"/>
<text transform="translate(851.53 743.10) scale(1.0997 1)" font-size="31.14" font-weight="700" fill="#2b2d6b" stroke="#2b2d6b" stroke-width="1.8" stroke-linejoin="round">CAN</text>
<text transform="translate(928.34 743.10) scale(1.1016 1)" font-size="31.14" font-weight="700" fill="#2b2d6b" stroke="#2b2d6b" stroke-width="1.8" stroke-linejoin="round">FITE</text>
<circle cx="927" cy="731.8" r="5.4" fill="#2b2d6b"/><circle cx="927" cy="731.8" r="3.7" fill="#e8101a"/>
<text transform="translate(114.14 72.80) scale(0.9762 1)" font-size="37.32" font-weight="400" font-style="normal" fill="#ffffff" stroke="#ffffff" stroke-width="0.4">Liver Cancer - Phase II Study Completed Enrollment</text>
<text transform="translate(226.54 169.00) scale(0.9678 1)" font-size="37.14" font-weight="700" font-style="normal" fill="#c50000">Data expected to be released Q1 2019</text>
<text transform="translate(108.51 288.80) scale(0.9417 1)" font-size="26.43" font-weight="700" font-style="normal" fill="#4c7fbd">Phase II -&#160; Study Protocol</text>
<text transform="translate(128.56 328.12) scale(1.0217 1)" font-size="22.39" font-weight="400" font-style="normal" fill="#1d1048" stroke="#1d1048" stroke-width="0.35">Second-Line Treatment</text>
<text transform="translate(127.88 364.82) scale(1.0398 1)" font-size="22.39" font-weight="400" font-style="normal" fill="#1d1048" stroke="#1d1048" stroke-width="0.35">Advanced Hepatocellular</text>
<text transform="translate(125.74 396.82) scale(1.0139 1)" font-size="22.39" font-weight="400" font-style="normal" fill="#1d1048" stroke="#1d1048" stroke-width="0.35">Carcinoma; Child-Pugh B</text>
<text transform="translate(128.00 433.82) scale(1.0454 1)" font-size="22.39" font-weight="400" font-style="normal" fill="#1d1048" stroke="#1d1048" stroke-width="0.35">78 patients</text>
<text transform="translate(127.61 471.22) scale(0.9968 1)" font-size="22.39" font-weight="400" font-style="normal" fill="#1d1048" stroke="#1d1048" stroke-width="0.35">US, Europe and Israel</text>
<text transform="translate(126.88 508.82) scale(1.0563 1)" font-size="22.39" font-weight="400" font-style="normal" fill="#1d1048" stroke="#1d1048" stroke-width="0.35">Primary end point: overall survival</text>
<text transform="translate(126.88 546.12) scale(1.0585 1)" font-size="22.39" font-weight="400" font-style="normal" fill="#1d1048" stroke="#1d1048" stroke-width="0.35">Patient enrollment completed August 2017</text>
<text transform="translate(126.98 583.23) scale(1.0666 1)" font-size="22.39" font-weight="400" font-style="normal" fill="#1d1048" stroke="#1d1048" stroke-width="0.35">Currently following survival data and will perform</text>
<text transform="translate(126.41 620.43) scale(1.0431 1)" font-size="22.39" font-weight="400" font-style="normal" fill="#1d1048" stroke="#1d1048" stroke-width="0.35">survival analysis at earliest possible opportunity</text>
<text transform="translate(571.61 293.07) scale(1.0253 1)" font-size="14.93" font-weight="700" font-style="normal" fill="#000000" stroke="#000000" stroke-width="0.25">Namodenoson</text>
<text transform="translate(572.06 313.98) scale(1.0278 1)" font-size="14.93" font-weight="700" font-style="normal" fill="#000000" stroke="#000000" stroke-width="0.25">25 mg</text>
<text transform="translate(572.14 401.68) scale(0.9699 1)" font-size="15.21" font-weight="700" font-style="normal" fill="#000000" stroke="#000000" stroke-width="0.25">Placebo</text>
<text transform="translate(682.21 458.88) scale(1.1893 1)" font-size="14.5" font-weight="700" font-style="normal" fill="#000000" stroke="#000000" stroke-width="0.25">0</text>
<text transform="translate(803.32 458.68) scale(1.0444 1)" font-size="14.5" font-weight="700" font-style="normal" fill="#000000" stroke="#000000" stroke-width="0.25">Following patients survival</text>
<text transform="translate(463.67 426.80) scale(1.1442 1)" font-size="12.75" font-weight="400" font-style="italic" fill="#cc6a22">*2:1 ratio of either</text>
<text transform="translate(463.18 445.20) scale(1.1110 1)" font-size="12.46" font-weight="400" font-style="italic" fill="#cc6a22">Namodenoson or placebo</text>
<text transform="translate(94.33 730.70) scale(0.8956 1)" font-size="16.0" font-weight="700" font-style="normal" fill="#24214f">(NYSE American: CANF) (TASE:CFBI)</text>
<text transform="translate(514.84 758.80) scale(0.9563 1)" font-size="15.8" font-weight="400" font-style="normal" fill="#6a6a6a">15</text>
<text transform="translate(471.65 349.85) scale(0.8347 1)" font-size="29.86" font-weight="700" font-style="normal" fill="#ffffff" stroke="#ffffff" stroke-width="0.9">R</text>
<text transform="translate(893.85 757.60) scale(1.0518 1)" font-size="13.62" letter-spacing="0.8" font-weight="400" font-style="normal" fill="#36375f">BioPharma Ltd.</text>
</svg>
</body></html>
